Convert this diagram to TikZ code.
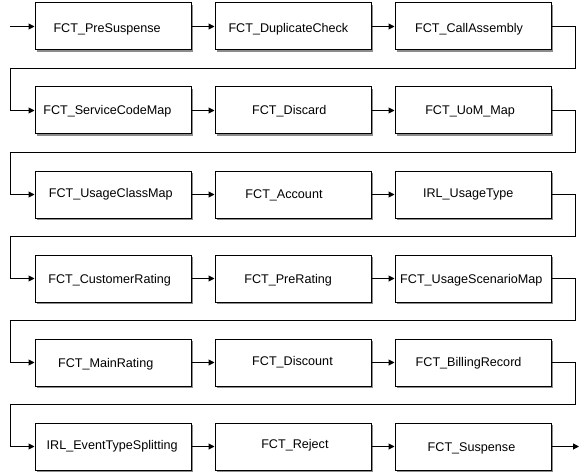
\documentclass[tikz,border=0pt]{standalone}
\usepackage{fontspec}
\setmainfont{Liberation Sans}
\usetikzlibrary{arrows.meta,shadows}
\begin{document}
\begin{tikzpicture}[x=1pt,y=-1pt,
  box/.style={draw=black,line width=1pt,fill=white,minimum width=156pt,minimum height=47pt,inner sep=0pt,
    drop shadow={shadow xshift=2pt,shadow yshift=-2pt,fill=black!45,opacity=1}},
  txt/.style={font=\fontsize{12.6}{14}\selectfont,inner sep=0pt,anchor=base},
  link/.style={line width=1pt,-{Triangle[length=6pt,width=6pt]}}]
\useasboundingbox[fill=white] (0,0) rectangle (586,476);
% row 1
\node[box] (b1) at (113,26.5) {};
\node[box] (b2) at (293,26.5) {};
\node[box] (b3) at (473,26.5) {};
% row 2
\node[box] (b4) at (113,110.5) {};
\node[box] (b5) at (293,110.5) {};
\node[box] (b6) at (473,110.5) {};
% row 3
\node[box] (b7) at (113,194.5) {};
\node[box] (b8) at (293,194.5) {};
\node[box] (b9) at (473,194.5) {};
% row 4
\node[box] (b10) at (113,278.5) {};
\node[box] (b11) at (293,278.5) {};
\node[box] (b12) at (473,278.5) {};
% row 5
\node[box] (b13) at (113,362.5) {};
\node[box] (b14) at (293,362.5) {};
\node[box] (b15) at (473,362.5) {};
% row 6
\node[box] (b16) at (113,446.5) {};
\node[box] (b17) at (293,446.5) {};
\node[box] (b18) at (473,446.5) {};
% labels
\node[txt] (t1) at ([xshift=-5.9pt,yshift=-5.6pt]b1.center) {FCT\_PreSuspense};
\node[txt] (t2) at ([xshift=-4.6pt,yshift=-5.6pt]b2.center) {FCT\_DuplicateCheck};
\node[txt] (t3) at ([xshift=-4pt,yshift=-5.8pt]b3.center) {FCT\_CallAssembly};
\node[txt] (t4) at ([xshift=-5.6pt,yshift=-4.2pt]b4.center) {FCT\_ServiceCodeMap};
\node[txt] (t5) at ([xshift=-3.7pt,yshift=-4.4pt]b5.center) {FCT\_Discard};
\node[txt] (t6) at ([xshift=-2.9pt,yshift=-4.2pt]b6.center) {FCT\_UoM\_Map};
\node[txt] (t7) at ([xshift=-2.2pt,yshift=-3.2pt]b7.center) {FCT\_UsageClassMap};
\node[txt] (t8) at ([xshift=-9pt,yshift=-4pt]b8.center) {FCT\_Account};
\node[txt] (t9) at ([xshift=-4.7pt,yshift=-3.2pt]b9.center) {IRL\_UsageType};
\node[txt] (t10) at ([xshift=-3.4pt,yshift=-4.8pt]b10.center) {FCT\_CustomerRating};
\node[txt] (t11) at ([xshift=-4.9pt,yshift=-4.8pt]b11.center) {FCT\_PreRating};
\node[txt] (t12) at ([xshift=-1.7pt,yshift=-4.8pt]b12.center) {FCT\_UsageScenarioMap};
\node[txt] (t13) at ([xshift=-7.3pt,yshift=-5.2pt]b13.center) {FCT\_MainRating};
\node[txt] (t14) at ([xshift=-0.5pt,yshift=-2.5pt]b14.center) {FCT\_Discount};
\node[txt] (t15) at ([xshift=-4.4pt,yshift=-4.2pt]b15.center) {FCT\_BillingRecord};
\node[txt] (t16) at ([xshift=-0.8pt,yshift=-2.5pt]b16.center) {IRL\_EventTypeSplitting};
\node[txt] (t17) at ([xshift=1.9pt,yshift=-2.2pt]b17.center) {FCT\_Reject};
\node[txt] (t18) at ([xshift=-1.5pt,yshift=-4.8pt]b18.center) {FCT\_Suspense};
% entry and exit
\coordinate (in) at (10,26.5);
\coordinate (out) at (579,446.5);
\draw[link] (in) -- (b1.west);
\draw[link] (b18.east) -- (out);
% horizontal links
\foreach \a/\b in {b1/b2,b2/b3,b4/b5,b5/b6,b7/b8,b8/b9,b10/b11,b11/b12,b13/b14,b14/b15,b16/b17,b17/b18}
  \draw[link] (\a.east) -- (\b.west);
% wrap links
\foreach \a/\b in {b3/b4,b6/b7,b9/b10,b12/b13,b15/b16}
  \draw[link] (\a.east) -- ++(24,0) |- ([yshift=-42pt]\a.center) -| ([xshift=-24pt]\b.west) -- (\b.west);
\end{tikzpicture}
\end{document}
